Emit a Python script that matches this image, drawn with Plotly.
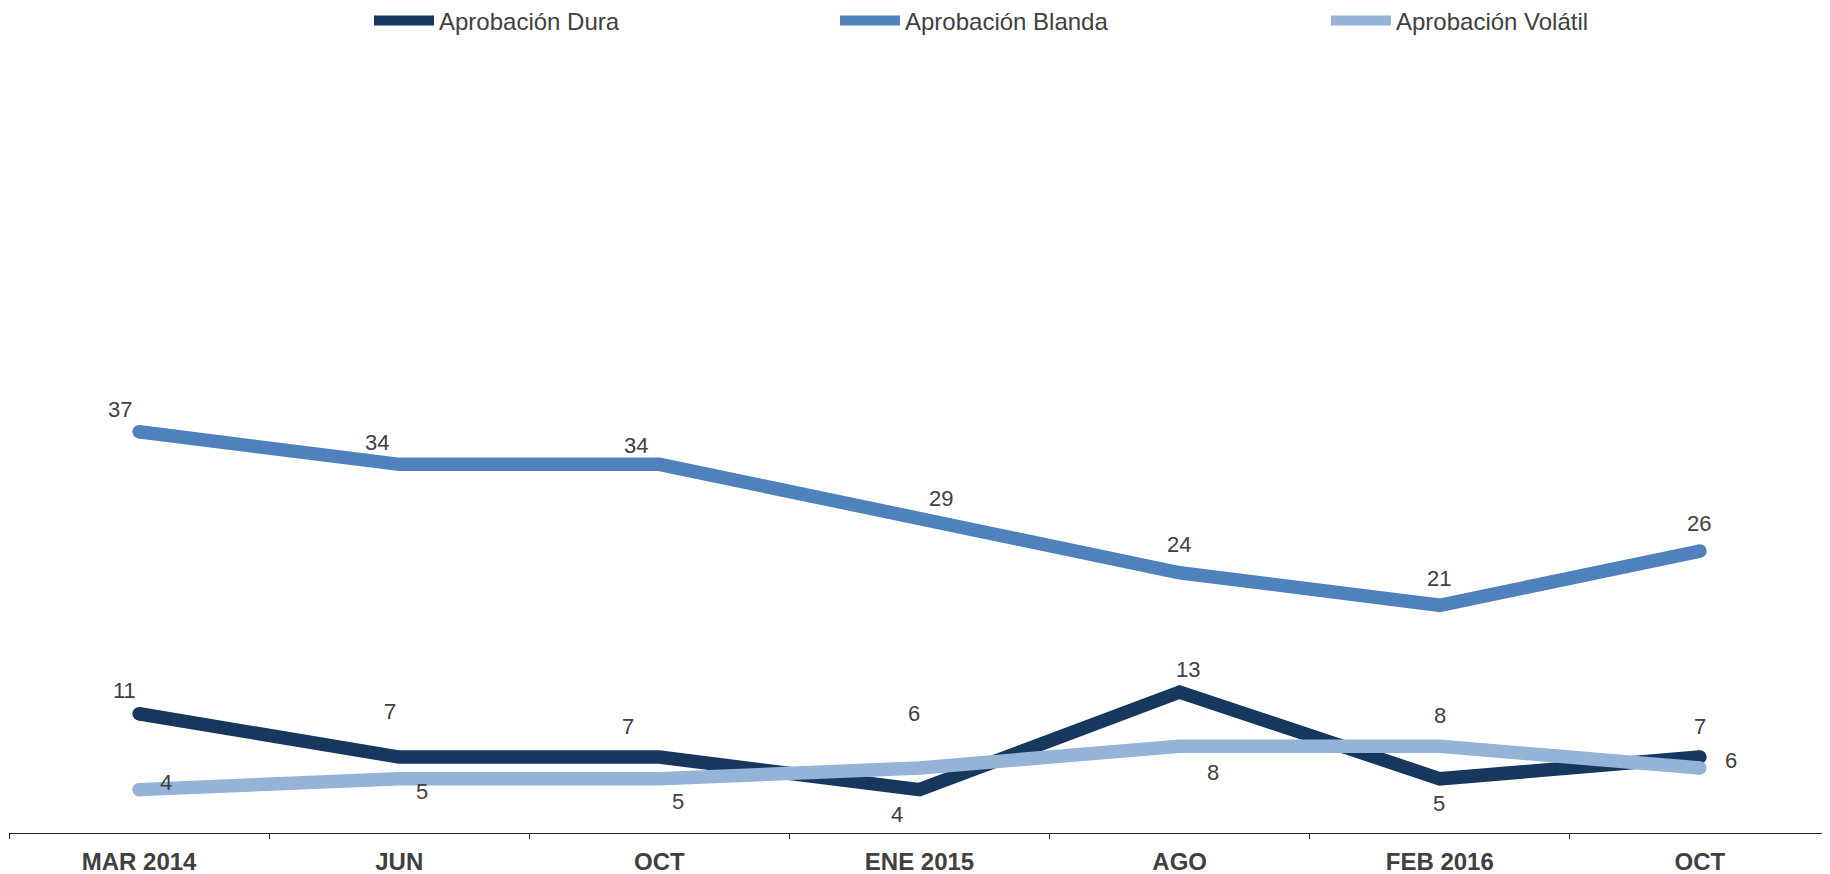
import plotly.graph_objects as go

categories = ["MAR 2014", "JUN", "OCT", "ENE 2015", "AGO", "FEB 2016", "OCT "]
dura = [11, 7, 7, 4, 13, 5, 7]
blanda = [37, 34, 34, 29, 24, 21, 26]
volatil = [4, 5, 5, 6, 8, 8, 6]
tick_text = ["MAR 2014", "JUN", "OCT", "ENE 2015", "AGO", "FEB 2016", "OCT"]

names = ["Aprobación Dura", "Aprobación Blanda", "Aprobación Volátil"]
colors = ["#17375E", "#4F81BD", "#95B3D7"]

# label offsets (pixels) for each series
dura_off = [(-15, 23), (-9, 46), (-31, 31), (-23, -25), (8, 23), (-1, -25), (0, 31)]
blanda_off = [(-19, 22), (-22, 22), (-23, 19), (21, 20), (-1, 28), (-1, 27), (-1, 28)]
volatil_off = [(27, 7), (23, -13), (19, -23), (-6, 54), (33, -26), (0, 31), (31, 7)]

FONT = "Liberation Sans, Arial, sans-serif"
TXT = "#404040"
W, H = 1822, 866

fig = go.Figure()
series = [dura, blanda, volatil]
legends = ["legend", "legend2", "legend3"]
for vals, name, col, lg in zip(series, names, colors, legends):
    fig.add_trace(go.Scatter(x=categories, y=vals, mode="lines", name=name,
                             line=dict(color=col, width=13.5), legend=lg,
                             legendgroup=name, hoverinfo="skip"))
    fig.add_trace(go.Scatter(x=[categories[0], categories[-1]], y=[vals[0], vals[-1]],
                             mode="markers", marker=dict(color=col, size=13.5, line=dict(width=0)),
                             showlegend=False, legendgroup=name, hoverinfo="skip"))

for vals, offs in zip(series, [dura_off, blanda_off, volatil_off]):
    for c, v, (dx, dy) in zip(categories, vals, offs):
        fig.add_annotation(x=c, y=v, text=str(v), showarrow=False,
                           xshift=dx, yshift=dy,
                           font=dict(family=FONT, size=22, color=TXT))

leg_common = dict(orientation="h", xref="container", yref="container",
                  xanchor="left", yanchor="middle", y=1 - 13 / H,
                  font=dict(family=FONT, size=24, color=TXT),
                  bgcolor="rgba(0,0,0,0)", itemwidth=60)
fig.update_layout(
    width=W, height=H,
    paper_bgcolor="white", plot_bgcolor="white",
    margin=dict(l=1, r=0, t=66, b=41),
    font=dict(family=FONT, color=TXT),
    legend=dict(x=361 / W, **leg_common),
    legend2=dict(x=827 / W, **leg_common),
    legend3=dict(x=1318 / W, **leg_common),
    xaxis=dict(type="category", tickson="boundaries", ticks="outside", ticklen=5,
               tickcolor="#222222", tickwidth=1.3, showline=True, linecolor="#222222",
               linewidth=1.3, showgrid=False, zeroline=False,
               tickvals=categories, ticktext=tick_text, ticklabelstandoff=7,
               tickfont=dict(family=FONT, size=24, color=TXT, weight="bold"),
               range=[-0.5, 6.5]),
    yaxis=dict(range=[0, 70], visible=False, showgrid=False, zeroline=False),
    showlegend=True,
)

fig.write_html("out.html")
